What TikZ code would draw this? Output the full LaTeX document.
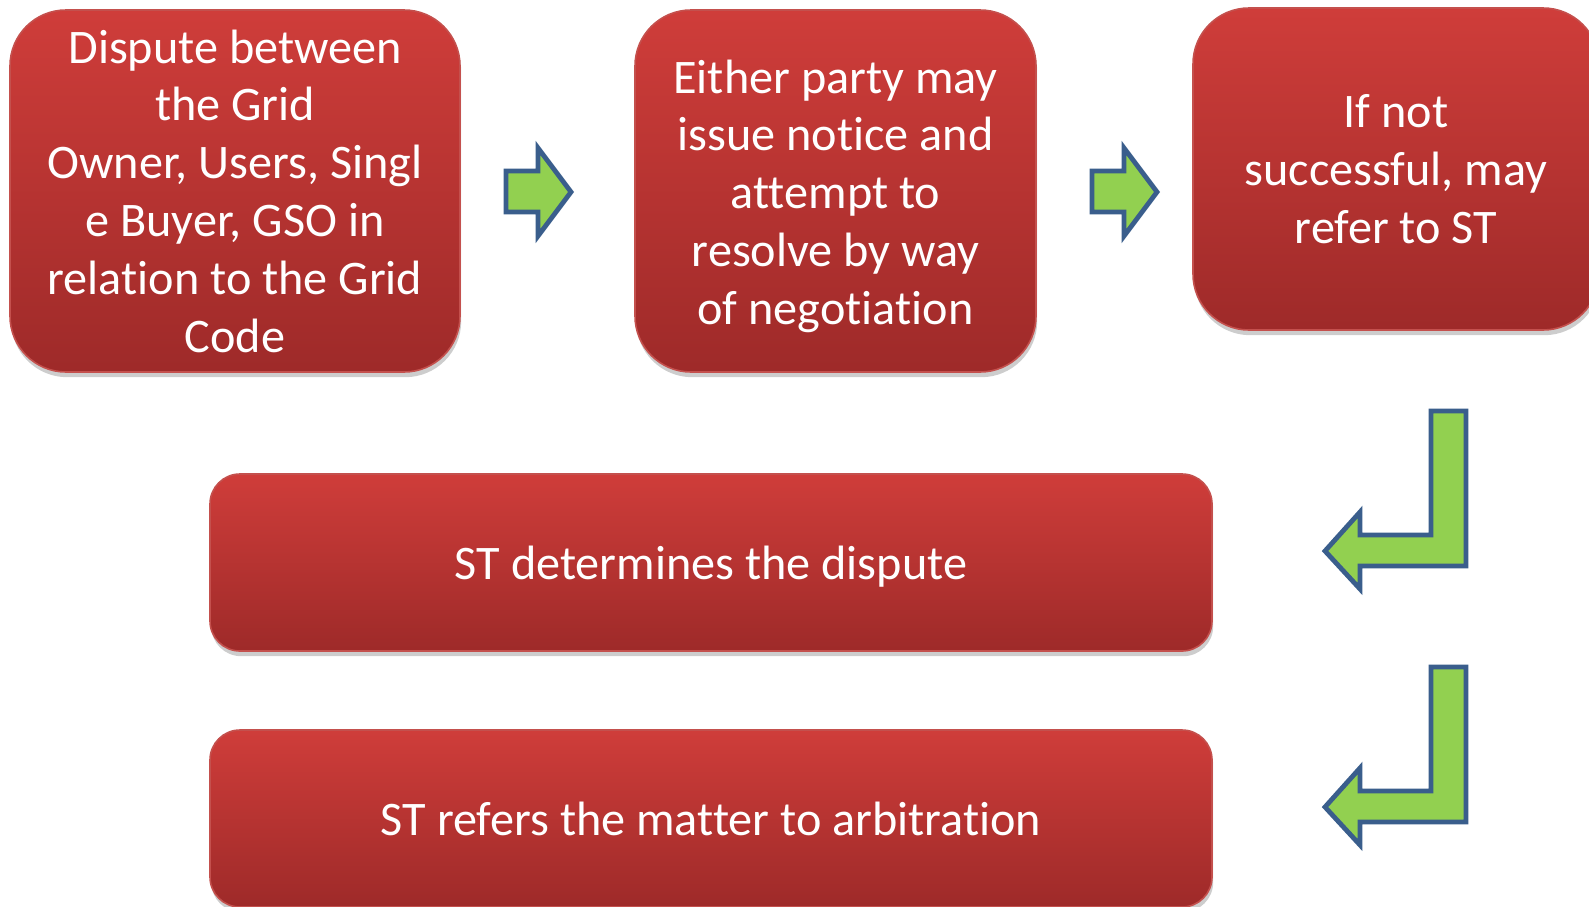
\documentclass[tikz,border=0pt]{standalone}
\usepackage{fontspec}
\setmainfont{Carlito}[Ligatures=NoCommon]
\usetikzlibrary{shadows}

\definecolor{boxtop}{HTML}{CF3D3A}
\definecolor{boxmid}{HTML}{BC3735}
\definecolor{boxbot}{HTML}{9E2A29}
\definecolor{boxline}{HTML}{C4504D}
\definecolor{arrowgreen}{HTML}{92D050}
\definecolor{arrowblue}{HTML}{3A5E8C}

\tikzset{
    redbox/.style={draw=boxline, line width=0.8pt, top color=boxtop, middle color=boxmid, bottom color=boxbot,
        text=white, align=center, inner sep=0pt, font=\fontsize{24.1}{28.9}\selectfont,
        drop shadow={opacity=0.28, shadow xshift=0.6pt, shadow yshift=-2.6pt, fill=black!70}},
    tallbox/.style={redbox, rounded corners=28pt},
    widebox/.style={redbox, rounded corners=15pt, minimum width=501pt, minimum height=88.5pt},
    blockarrow/.style={draw=arrowblue, fill=arrowgreen, line width=2.4pt, line join=miter}
}

\begin{document}
\begin{tikzpicture}[x=0.5pt, y=-0.5pt]

    \useasboundingbox (0, 0) rectangle (1589, 906);

    \node[tallbox, minimum width=225pt, minimum height=181pt] (dispute) at (235, 191)
        {Dispute between\\the Grid\\Owner, Users, Singl\\e Buyer, GSO in\\relation to the Grid\\Code};
    \node[tallbox, minimum width=200.5pt, minimum height=181pt] (notice) at (835.5, 191)
        {\raisebox{-2.6pt}[\height][\depth]{\parbox{190pt}{\centering Either party may\\issue notice and\\attempt to\\resolve by way\\of negotiation}}};
    \node[tallbox, minimum width=203pt, minimum height=161pt] (refer) at (1396, 169)
        {If not\\successful, may\\refer to ST};

    \node[widebox] (determine) at (711, 562.5) {\raisebox{-2pt}[\height][\depth]{ST determines the dispute}};
    \node[widebox] (arbitration) at (711, 818.5) {ST refers the matter to arbitration};

    \draw[blockarrow] (506, 171) -- (538, 171) -- (538, 148) -- (571, 192) -- (538, 236) -- (538, 212) -- (506, 212) -- cycle;
    \draw[blockarrow] (1092, 171) -- (1124, 171) -- (1124, 148) -- (1157, 192) -- (1124, 236) -- (1124, 212) -- (1092, 212) -- cycle;

    \draw[blockarrow] (1431, 411) -- (1466, 411) -- (1466, 566) -- (1360, 566) -- (1360, 589) -- (1325, 551) -- (1360, 512) -- (1360, 535) -- (1431, 535) -- cycle;
    \draw[blockarrow] (1431, 667) -- (1466, 667) -- (1466, 822) -- (1360, 822) -- (1360, 845) -- (1325, 807) -- (1360, 768) -- (1360, 791) -- (1431, 791) -- cycle;

\end{tikzpicture}
\end{document}
